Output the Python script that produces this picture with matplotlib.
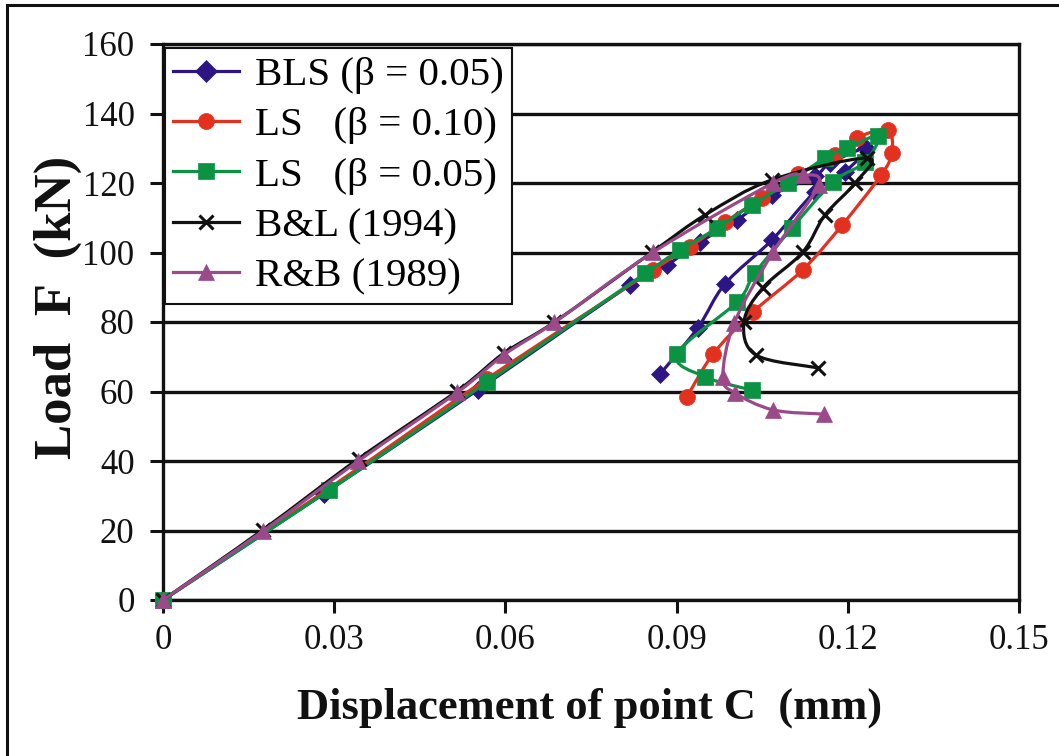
import numpy as np
import matplotlib
matplotlib.use("Agg")
import matplotlib.pyplot as plt
from matplotlib.path import Path
from matplotlib.patches import PathPatch, Rectangle
from matplotlib.lines import Line2D

plt.rcParams['font.family'] = ['Liberation Serif', 'DejaVu Serif']
plt.rcParams['mathtext.fontset'] = 'stix'

# ---------------- data ----------------
bls_x = [0, 0.0282, 0.0552, 0.0819, 0.0883, 0.0941, 0.1006, 0.1067, 0.1142, 0.1169, 0.1232,
         0.1195, 0.1142, 0.1067, 0.0985, 0.0937, 0.0871]
bls_y = [0, 30.6, 60.5, 90.7, 96.4, 103.0, 109.4, 116.5, 122.0, 125.7, 130.0,
         123.2, 117.4, 103.6, 91.0, 78.3, 65.0]

ls10_x = [0, 0.0290, 0.0568, 0.0859, 0.0923, 0.0985, 0.1050, 0.1113, 0.1178, 0.1216, 0.1270,
          0.1277, 0.1258, 0.1190, 0.1121, 0.1034, 0.0964, 0.0918]
ls10_y = [0, 32.0, 63.7, 95.0, 101.6, 108.8, 115.7, 122.5, 128.0, 133.0, 135.2,
          128.6, 122.2, 107.9, 95.0, 82.9, 70.8, 58.4]

ls05_x = [0, 0.0291, 0.0568, 0.0845, 0.0906, 0.0971, 0.1032, 0.1095, 0.1160, 0.1198, 0.1253,
          0.1230, 0.1174, 0.1102, 0.1037, 0.1006, 0.0901, 0.0950, 0.1032]
ls05_y = [0, 31.6, 62.7, 94.0, 100.7, 107.0, 113.7, 120.0, 127.2, 130.0, 133.5,
          126.0, 120.3, 107.0, 94.0, 85.8, 70.8, 64.2, 60.4]

bl_x = [0, 0.0175, 0.0343, 0.0516, 0.0597, 0.0686, 0.0857, 0.0950, 0.1067, 0.1234,
        0.1213, 0.1160, 0.1121, 0.1051, 0.1018, 0.1039, 0.1148]
bl_y = [0, 20.2, 40.7, 60.2, 71.0, 80.0, 100.1, 110.8, 120.9, 127.2,
        120.0, 110.8, 100.1, 89.8, 80.0, 70.5, 66.8]

rb_x = [0, 0.0175, 0.0342, 0.0516, 0.0597, 0.0686, 0.0859, 0.1069, 0.1121, 0.1149,
        0.1069, 0.1001, 0.0981, 0.1002, 0.1069, 0.1158]
rb_y = [0, 19.8, 40.0, 59.8, 70.5, 79.9, 100.1, 120.0, 122.3, 119.4,
        100.1, 79.7, 64.2, 59.6, 54.7, 53.5]

labels = ['BLS (β = 0.05)', 'LS   (β = 0.10)', 'LS   (β = 0.05)', 'B&L (1994)', 'R&B (1989)']
x_ticks = [0, 0.03, 0.06, 0.09, 0.12, 0.15]
x_tick_labels = ['0', '0.03', '0.06', '0.09', '0.12', '0.15']
y_ticks = [0, 20, 40, 60, 80, 100, 120, 140, 160]

colors = ['#2d1683', '#e2311f', '#0b9343', '#111111', '#9a4a89']
markers = ['D', 'o', 's', 'x', '^']
msizes = [9, 11.5, 11, 10, 11]

# ---------------- figure ----------------
W, H = 1059, 756
fig = plt.figure(figsize=(W / 100, H / 100), dpi=100)
ax = fig.add_axes([163 / W, 1 - 600 / H, (1019 - 163) / W, (600 - 44) / H])

# outer border of the picture (left and top visible)
fig.patches.append(Rectangle((7 / W, -0.1), 1.2, 1.1 - 5 / H, transform=fig.transFigure,
                             fill=False, edgecolor='#111111', linewidth=2.2))


def smooth_path(xs, ys):
    pts = np.column_stack([xs, ys]).astype(float)
    n = len(pts)
    verts = [pts[0]]
    codes = [Path.MOVETO]
    for i in range(n - 1):
        p0 = pts[i - 1] if i > 0 else pts[i]
        p1 = pts[i]
        p2 = pts[i + 1]
        p3 = pts[i + 2] if i + 2 < n else pts[i + 1]
        c1 = p1 + (p2 - p0) / 6.0
        c2 = p2 - (p3 - p1) / 6.0
        verts += [c1, c2, p2]
        codes += [Path.CURVE4] * 3
    return Path(verts, codes)


series = [(bls_x, bls_y), (ls10_x, ls10_y), (ls05_x, ls05_y), (bl_x, bl_y), (rb_x, rb_y)]
handles = []
for k, (xs, ys) in enumerate(series):
    patch = PathPatch(smooth_path(xs, ys), fill=False, edgecolor=colors[k],
                      linewidth=2.3, zorder=3 + k, clip_on=False, capstyle='round', joinstyle='round')
    ax.add_patch(patch)
    mew = 2.2 if markers[k] == 'x' else 0.5
    ax.plot(xs, ys, linestyle='none', marker=markers[k], markersize=msizes[k],
            color=colors[k], markeredgecolor=colors[k], markeredgewidth=mew,
            zorder=3 + k, clip_on=False)
    handles.append(Line2D([], [], color=colors[k], linewidth=2.3, marker=markers[k],
                          markersize=msizes[k] + (2 if k == 0 else 0), markeredgewidth=mew,
                          markeredgecolor=colors[k]))

ax.set_xlim(0, 0.15)
ax.set_ylim(0, 160)
ax.set_xticks(x_ticks)
ax.set_xticklabels(x_tick_labels)
ax.set_yticks(y_ticks)
ax.tick_params(axis='both', direction='out', length=9.5, width=2.2, color='#111111',
               labelsize=25, labelcolor='#111111')
ax.tick_params(axis='y', pad=11)
ax.tick_params(axis='x', pad=8)
ax.grid(axis='y', color='#111111', linewidth=2.4, zorder=1)
ax.set_axisbelow(True)
for s in ax.spines.values():
    s.set_linewidth(2.4)
    s.set_color('#111111')

fig.text(590 / W, 1 - 708 / H, 'Displacement of point C  (mm)', ha='center', va='center',
         fontsize=32, fontweight='bold', color='#111111')
fig.text(58 / W, 1 - 307 / H, 'Load  F  (kN)', ha='center', va='center', rotation=90,
         fontsize=38, fontweight='bold', color='#111111')

leg = ax.legend(handles, labels, loc='upper left', bbox_to_anchor=(0.0, 1.0 - 2 / 556),
                fontsize=29.5, frameon=True, fancybox=False, framealpha=1,
                edgecolor='#111111', borderpad=0.2, labelspacing=0.31,
                handlelength=1.6, handletextpad=0.4, borderaxespad=0.05)
leg.get_frame().set_linewidth(1.5)
leg.set_zorder(20)

fig.savefig('out.png', dpi=100)
